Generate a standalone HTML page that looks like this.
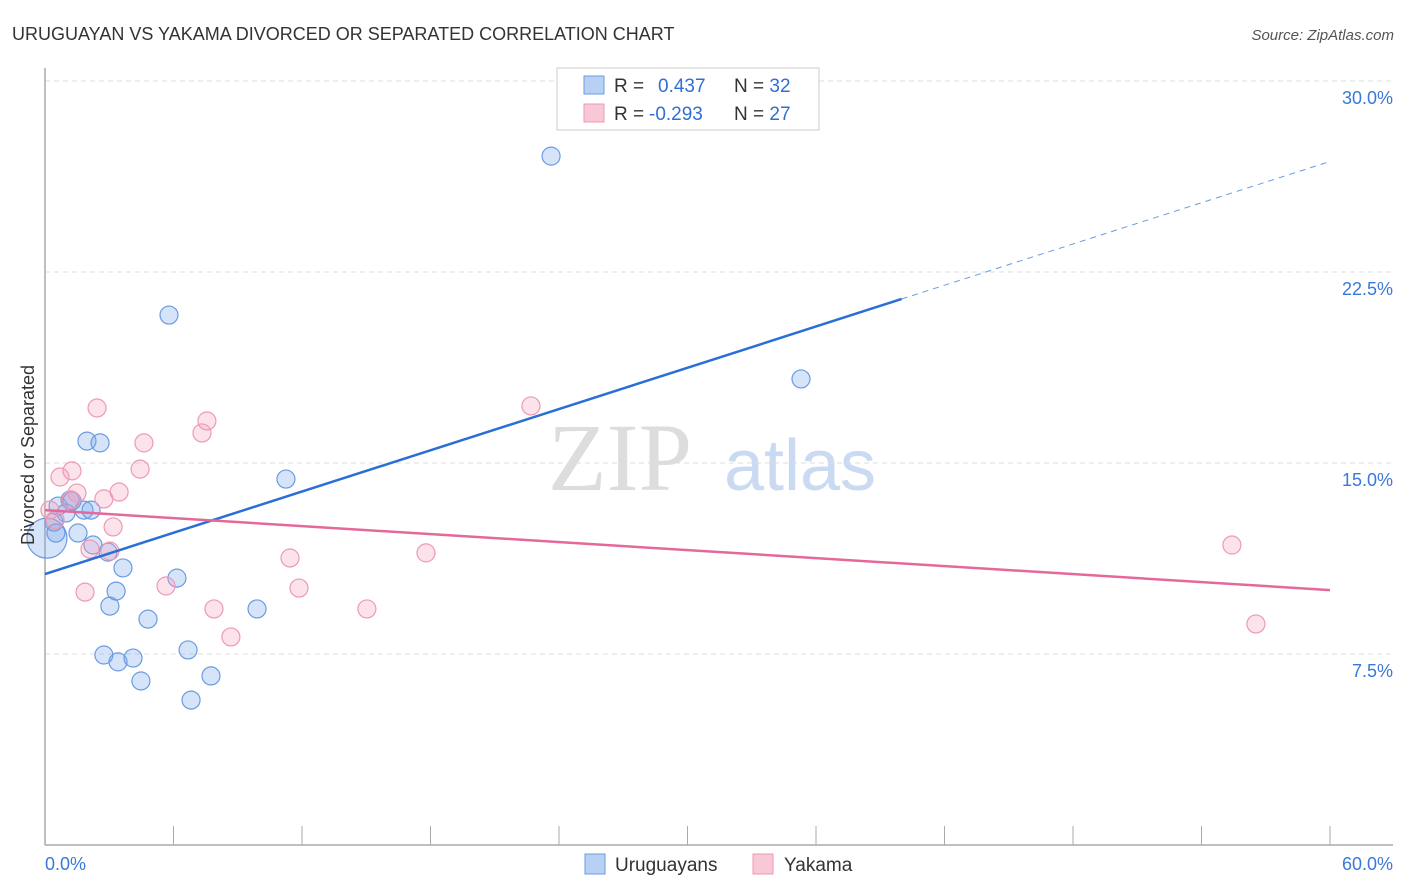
<!DOCTYPE html>
<html><head><meta charset="utf-8"><style>
body{margin:0;background:#fff;font-family:"Liberation Sans",sans-serif;}
svg{display:block}
</style></head><body>
<svg width="1406" height="892" font-family="Liberation Sans, sans-serif">
<text x="12" y="40" font-size="18" fill="#333">URUGUAYAN VS YAKAMA DIVORCED OR SEPARATED CORRELATION CHART</text>
<text x="1394" y="40" font-size="15" fill="#555" font-style="italic" text-anchor="end">Source: ZipAtlas.com</text>
<text x="620" y="490" font-size="96" fill="#ddd" font-family="Liberation Serif, serif" text-anchor="middle">ZIP</text>
<text x="800" y="490" font-size="72" fill="#c9daf2" text-anchor="middle">atlas</text>
<g id="grid"></g>
<g id="axes"></g>
<g id="marks"></g>
<text transform="translate(34,455) rotate(-90)" font-size="18" fill="#333" text-anchor="middle">Divorced or Separated</text>
<g>
<rect x="557" y="68" width="262" height="62" fill="#fff" stroke="#ccc"/>
<rect x="584" y="76" width="20" height="18" fill="#b8d0f4" stroke="#6a9be0"/>
<rect x="584" y="104" width="20" height="18" fill="#f9c8d7" stroke="#ec9ab3"/>
<text x="614" y="92" font-size="19" fill="#333">R = <tspan fill="#2f6fd6" x="658">0.437</tspan><tspan fill="#333" x="734">N = </tspan><tspan fill="#2f6fd6">32</tspan></text>
<text x="614" y="120" font-size="19" fill="#333">R = <tspan fill="#2f6fd6" x="649">-0.293</tspan><tspan fill="#333" x="734">N = </tspan><tspan fill="#2f6fd6">27</tspan></text>
</g>
<g>
<rect x="585" y="854" width="20" height="20" fill="#b8d0f4" stroke="#6a9be0"/>
<text x="615" y="871" font-size="19" fill="#333">Uruguayans</text>
<rect x="753" y="854" width="20" height="20" fill="#f9c8d7" stroke="#ec9ab3"/>
<text x="784" y="871" font-size="19" fill="#333">Yakama</text>
</g>
</svg>
<script>
const yTicks=[7.5,15,22.5,30];
const yTickLabels=["7.5%","15.0%","22.5%","30.0%"];
const xTickLabels=["0.0%","60.0%"];
const blueX=[0.09,0.42,0.51,0.61,0.98,1.17,1.26,1.54,1.96,2.57,1.82,2.15,2.24,2.94,3.64,3.03,3.32,4.81,2.75,3.41,4.11,4.48,6.16,6.68,6.82,7.75,9.9,11.25,5.79,23.63,35.3];
const blueY=[12.05,12.68,12.25,13.31,13.04,13.55,13.51,12.25,15.86,15.79,13.15,13.15,11.78,11.5,10.88,9.38,9.97,8.87,7.46,7.19,7.34,6.44,10.48,7.66,5.69,6.64,9.27,14.37,20.81,27.05,18.3];
const pinkX=[0.23,0.47,0.7,1.26,2.43,1.49,1.21,2.75,3.46,4.44,4.62,3.18,2.1,3.03,1.87,5.65,7.33,7.56,7.89,8.68,11.44,11.86,15.03,17.79,22.69,55.42,56.54];
const pinkY=[13.15,12.76,14.45,14.69,17.16,13.82,13.55,13.59,13.86,14.76,15.79,12.49,11.62,11.54,9.93,10.17,16.18,16.65,9.27,8.17,11.27,10.09,9.27,11.47,17.24,11.78,8.68];
const blueTrend=[10.64,26.84];
const pinkTrend=[13.15,10.01];
const NS="http://www.w3.org/2000/svg";
const X=v=>45+v*1285/60, Y=v=>845-v*191/7.5;
function mk(tag,attrs,parent){const e=document.createElementNS(NS,tag);for(const k in attrs)e.setAttribute(k,attrs[k]);document.getElementById(parent).appendChild(e);return e;}
yTicks.forEach((t,i)=>{
 const l=mk('line',{x1:45,x2:1393,y1:Y(t),y2:Y(t),stroke:'#ddd','stroke-dasharray':'5,4'},'grid');
 
 
 const tx=mk('text',{x:1393,y:Y(t)+23,'font-size':18,fill:'#3a78d8','text-anchor':'end'},'grid');
 tx.textContent=yTickLabels[i];
 
 
});
let a=mk('line',{x1:45,x2:45,y1:68,y2:845,stroke:'#aaa','stroke-width':1.5},'axes');


a=mk('line',{x1:45,x2:1393,y1:845,y2:845,stroke:'#aaa','stroke-width':1.5},'axes');


for(let i=0;i<=10;i++){const t=mk('line',{x1:X(i*6),x2:X(i*6),y1:826,y2:845,stroke:'#aaa'},'axes');
 
 }
[[0,'start',45],[60,'end',1393]].forEach((d,i)=>{const t=mk('text',{x:d[2],y:870,'font-size':18,fill:'#3a78d8','text-anchor':d[1]},'axes');t.textContent=xTickLabels[i];
 
 });
blueX.forEach((x,i)=>{const c=mk('circle',{cx:X(x),cy:Y(blueY[i]),r:i===0?20:9,fill:'rgba(120,165,235,0.3)',stroke:'#6a9be0','stroke-width':1.2},'marks');
 
 });
pinkX.forEach((x,i)=>{const c=mk('circle',{cx:X(x),cy:Y(pinkY[i]),r:9,fill:'rgba(245,160,190,0.3)',stroke:'#ec9ab3','stroke-width':1.2},'marks');
 
 });
const bAt=x=>blueTrend[0]+(blueTrend[1]-blueTrend[0])*x/60;
let l=mk('line',{x1:X(0),y1:Y(bAt(0)),x2:X(40),y2:Y(bAt(40)),stroke:'#2a6fd6','stroke-width':2.5},'marks');


l=mk('line',{x1:X(40),y1:Y(bAt(40)),x2:X(60),y2:Y(bAt(60)),stroke:'#6a9be0','stroke-width':1,'stroke-dasharray':'6,5'},'marks');


l=mk('line',{x1:X(0),y1:Y(pinkTrend[0]),x2:X(60),y2:Y(pinkTrend[1]),stroke:'#e5689a','stroke-width':2.5},'marks');


</script>
</body></html>
